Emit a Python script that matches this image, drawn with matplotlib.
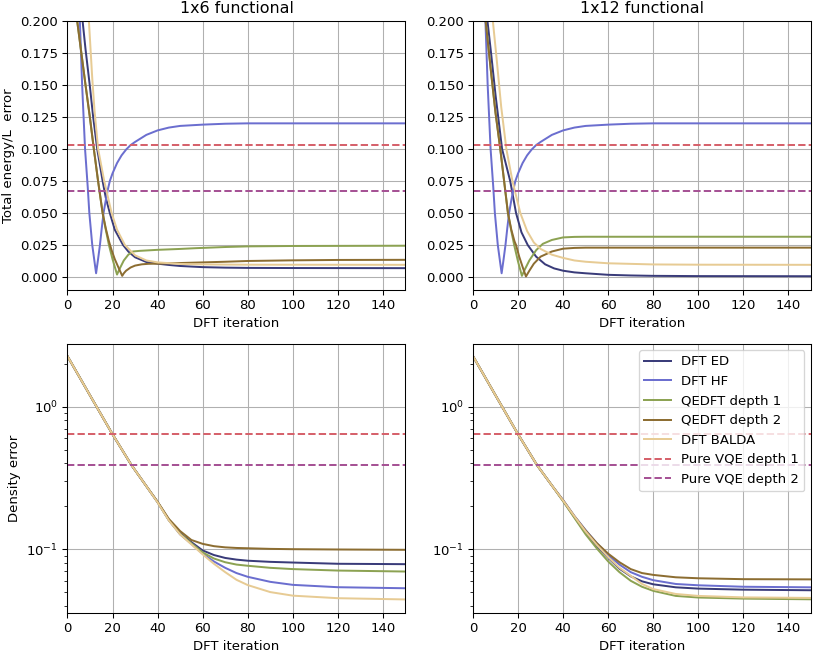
import matplotlib
matplotlib.use("Agg")
import matplotlib.pyplot as plt

# colours (tab20b picks)
C_ED = "#393b79"
C_HF = "#6b6ecf"
C_Q1 = "#8ca252"
C_Q2 = "#8c6d31"
C_BALDA = "#e7cb94"
C_VQE1 = "#d6616b"
C_VQE2 = "#a55194"

LABELS = ["DFT ED", "DFT HF", "QEDFT depth 1", "QEDFT depth 2", "DFT BALDA"]

# ---- total energy/L error, 1x6 functional ----
e6_ed_x = [0, 4, 5, 6.7, 8, 10, 11.4, 13.2, 15.6, 17, 18.8, 21, 24.7, 27, 30, 35, 40, 45, 50, 60, 70, 80, 100, 150]
e6_ed_y = [0.6, 0.3, 0.26, 0.2, 0.178, 0.148, 0.125, 0.1, 0.075, 0.062, 0.05, 0.037, 0.025, 0.02, 0.0155, 0.0118, 0.0105, 0.0095, 0.0087, 0.0078, 0.0074, 0.0072, 0.0071, 0.007]
e6_hf_x = [0, 4, 5.5, 6.5, 7.8, 9, 9.7, 11, 12, 12.7, 13.5, 14.4, 15.2, 16, 17, 18, 18.8, 20, 22, 24, 26, 28, 30, 35, 40, 45, 50, 60, 70, 80, 150]
e6_hf_y = [0.6, 0.3, 0.2, 0.15, 0.1, 0.07, 0.05, 0.025, 0.012, 0.003, 0.013, 0.025, 0.038, 0.05, 0.06, 0.069, 0.075, 0.081, 0.089, 0.095, 0.0995, 0.103, 0.1055, 0.111, 0.1145, 0.1167, 0.118, 0.119, 0.1197, 0.12, 0.12]
e6_q1_x = [0, 2, 4.3, 6, 8, 10, 11.7, 13.5, 15.6, 17, 18.4, 20, 21, 22, 23, 25, 27, 29, 32, 40, 50, 57, 70, 80, 100, 150]
e6_q1_y = [0.5, 0.3, 0.2, 0.177, 0.15, 0.124, 0.1, 0.076, 0.05, 0.037, 0.025, 0.014, 0.008, 0.002, 0.006, 0.013, 0.0175, 0.02, 0.0205, 0.0213, 0.022, 0.0226, 0.0235, 0.024, 0.0243, 0.0245]
e6_q2_x = [0, 2, 4.3, 6, 8, 10, 11.7, 13.5, 15.6, 17, 18.4, 19.6, 21, 22.5, 24.3, 25, 26, 28, 30, 33, 36, 40, 50, 60, 70, 80, 100, 120, 150]
e6_q2_y = [0.5, 0.3, 0.2, 0.177, 0.15, 0.124, 0.1, 0.076, 0.05, 0.038, 0.028, 0.021, 0.014, 0.008, 0.001, 0.003, 0.005, 0.0075, 0.009, 0.01, 0.0104, 0.0105, 0.011, 0.0115, 0.012, 0.0126, 0.0131, 0.0134, 0.0135]
e6_balda_x = [0, 5, 8, 9.5, 11, 12, 13.6, 16.3, 19.6, 22, 25.5, 30, 35, 40, 50, 60, 80, 150]
e6_balda_y = [0.8, 0.4, 0.25, 0.2, 0.155, 0.13, 0.1, 0.075, 0.05, 0.037, 0.025, 0.017, 0.013, 0.0115, 0.0103, 0.0099, 0.0097, 0.0096]

# ---- total energy/L error, 1x12 functional ----
e12_ed_x = [0, 4, 5, 6.4, 8, 10, 12.9, 16.5, 19.1, 21.5, 24.3, 28, 32, 36, 40, 45, 50, 60, 70, 80, 100, 150]
e12_ed_y = [0.6, 0.3, 0.26, 0.2, 0.175, 0.142, 0.1, 0.075, 0.05, 0.035, 0.025, 0.016, 0.01, 0.0068, 0.005, 0.0037, 0.003, 0.0018, 0.0013, 0.001, 0.0008, 0.0007]
e12_hf_x = e6_hf_x
e12_hf_y = e6_hf_y
e12_q1_x = [0, 2, 5.6, 8, 10, 12.1, 13.8, 15.5, 17, 18.4, 20, 21.7, 23, 25, 28, 31, 35, 40, 45, 50, 150]
e12_q1_y = [0.5, 0.3, 0.2, 0.16, 0.128, 0.1, 0.075, 0.05, 0.036, 0.024, 0.012, 0.001, 0.006, 0.013, 0.021, 0.026, 0.029, 0.031, 0.0314, 0.0315, 0.0315]
e12_q2_x = [0, 2, 5.6, 8, 10, 12.1, 13.8, 15.5, 17, 18.4, 19.1, 20.5, 22, 23.5, 25, 27, 30, 35, 40, 45, 50, 150]
e12_q2_y = [0.5, 0.3, 0.2, 0.16, 0.128, 0.1, 0.075, 0.05, 0.037, 0.028, 0.025, 0.016, 0.008, 0.0005, 0.005, 0.0105, 0.016, 0.02, 0.0222, 0.0228, 0.023, 0.023]
e12_balda_x = [0, 5, 8.8, 10.5, 12.5, 14.8, 17.5, 21, 24, 27, 30, 35, 40, 45, 50, 60, 80, 100, 150]
e12_balda_y = [0.8, 0.35, 0.2, 0.17, 0.133, 0.1, 0.075, 0.05, 0.036, 0.027, 0.022, 0.0175, 0.015, 0.013, 0.012, 0.0108, 0.0099, 0.0097, 0.0096]

# pure VQE reference levels
vqe1_energy = 0.1033
vqe2_energy = 0.0675
vqe1_density = 0.639
vqe2_density = 0.389

# ---- density error ----
d_it = [0, 10, 20, 28.4, 35, 40, 45, 50, 55, 60, 65, 70, 75, 80, 90, 100, 120, 150]
d6_ed = [2.26, 1.2, 0.64, 0.389, 0.277, 0.214, 0.16, 0.129, 0.112, 0.098, 0.091, 0.0868, 0.0845, 0.083, 0.0815, 0.0806, 0.079, 0.0785]
d6_hf = [2.26, 1.2, 0.64, 0.389, 0.277, 0.214, 0.16, 0.127, 0.109, 0.093, 0.082, 0.074, 0.068, 0.064, 0.059, 0.0562, 0.0541, 0.0532]
d6_q1 = [2.26, 1.2, 0.64, 0.389, 0.277, 0.214, 0.16, 0.128, 0.11, 0.095, 0.086, 0.081, 0.078, 0.0765, 0.074, 0.0725, 0.0708, 0.0697]
d6_q2 = [2.26, 1.2, 0.64, 0.389, 0.277, 0.215, 0.163, 0.134, 0.116, 0.109, 0.105, 0.103, 0.102, 0.1015, 0.1005, 0.1, 0.0995, 0.099]
d6_balda = [2.26, 1.2, 0.64, 0.389, 0.277, 0.213, 0.159, 0.127, 0.108, 0.092, 0.079, 0.069, 0.061, 0.056, 0.05, 0.0472, 0.0453, 0.0444]

d12_ed = [2.26, 1.2, 0.64, 0.389, 0.28, 0.218, 0.168, 0.13, 0.105, 0.087, 0.073, 0.0645, 0.0595, 0.0567, 0.054, 0.0529, 0.052, 0.0515]
d12_hf = [2.26, 1.2, 0.64, 0.389, 0.28, 0.221, 0.171, 0.136, 0.11, 0.091, 0.078, 0.069, 0.064, 0.0606, 0.057, 0.0558, 0.0545, 0.054]
d12_q1 = [2.26, 1.2, 0.64, 0.389, 0.28, 0.217, 0.166, 0.127, 0.101, 0.082, 0.069, 0.06, 0.0545, 0.051, 0.047, 0.0458, 0.045, 0.0445]
d12_q2 = [2.26, 1.2, 0.64, 0.389, 0.28, 0.22, 0.17, 0.135, 0.11, 0.093, 0.081, 0.0725, 0.068, 0.066, 0.0635, 0.0625, 0.0616, 0.0614]
d12_balda = [2.26, 1.2, 0.64, 0.389, 0.28, 0.219, 0.17, 0.133, 0.107, 0.088, 0.074, 0.065, 0.057, 0.0525, 0.0485, 0.047, 0.0459, 0.0455]

COLORS = [C_ED, C_HF, C_Q1, C_Q2, C_BALDA]

# 813 x 651 px at 95 dpi
DPI = 95
fig, axs = plt.subplots(2, 2, figsize=(813 / DPI, 651 / DPI), dpi=DPI)
fig.subplots_adjust(left=0.083, right=0.9975, top=0.968, bottom=0.059, wspace=0.2, hspace=0.2)

# top row: energy error
energy_sets = [
    [(e6_ed_x, e6_ed_y), (e6_hf_x, e6_hf_y), (e6_q1_x, e6_q1_y), (e6_q2_x, e6_q2_y), (e6_balda_x, e6_balda_y)],
    [(e12_ed_x, e12_ed_y), (e12_hf_x, e12_hf_y), (e12_q1_x, e12_q1_y), (e12_q2_x, e12_q2_y), (e12_balda_x, e12_balda_y)],
]
titles = ["1x6 functional", "1x12 functional"]
for col in range(2):
    ax = axs[0, col]
    for i, (xs, ys) in enumerate(energy_sets[col]):
        ax.plot(xs, ys, color=COLORS[i], label=LABELS[i])
    ax.axhline(vqe1_energy, color=C_VQE1, linestyle="--", label="Pure VQE depth 1")
    ax.axhline(vqe2_energy, color=C_VQE2, linestyle="--", label="Pure VQE depth 2")
    ax.set_xlim(0, 150)
    ax.set_ylim(-0.0099, 0.2)
    ax.set_xlabel("DFT iteration")
    ax.set_title(titles[col])
    ax.grid(True)
axs[0, 0].set_ylabel("Total energy/L  error")

# bottom row: density error
density_sets = [
    [d6_ed, d6_hf, d6_q1, d6_q2, d6_balda],
    [d12_ed, d12_hf, d12_q1, d12_q2, d12_balda],
]
for col in range(2):
    ax = axs[1, col]
    for i, ys in enumerate(density_sets[col]):
        ax.plot(d_it, ys, color=COLORS[i], label=LABELS[i])
    ax.axhline(vqe1_density, color=C_VQE1, linestyle="--", label="Pure VQE depth 1")
    ax.axhline(vqe2_density, color=C_VQE2, linestyle="--", label="Pure VQE depth 2")
    ax.set_yscale("log")
    ax.set_xlim(0, 150)
    ax.set_ylim(0.0359, 2.77)
    ax.set_xlabel("DFT iteration")
    ax.grid(True)
axs[1, 0].set_ylabel("Density error")
axs[1, 1].legend(loc="upper right")

fig.savefig("out.png", dpi=DPI)
